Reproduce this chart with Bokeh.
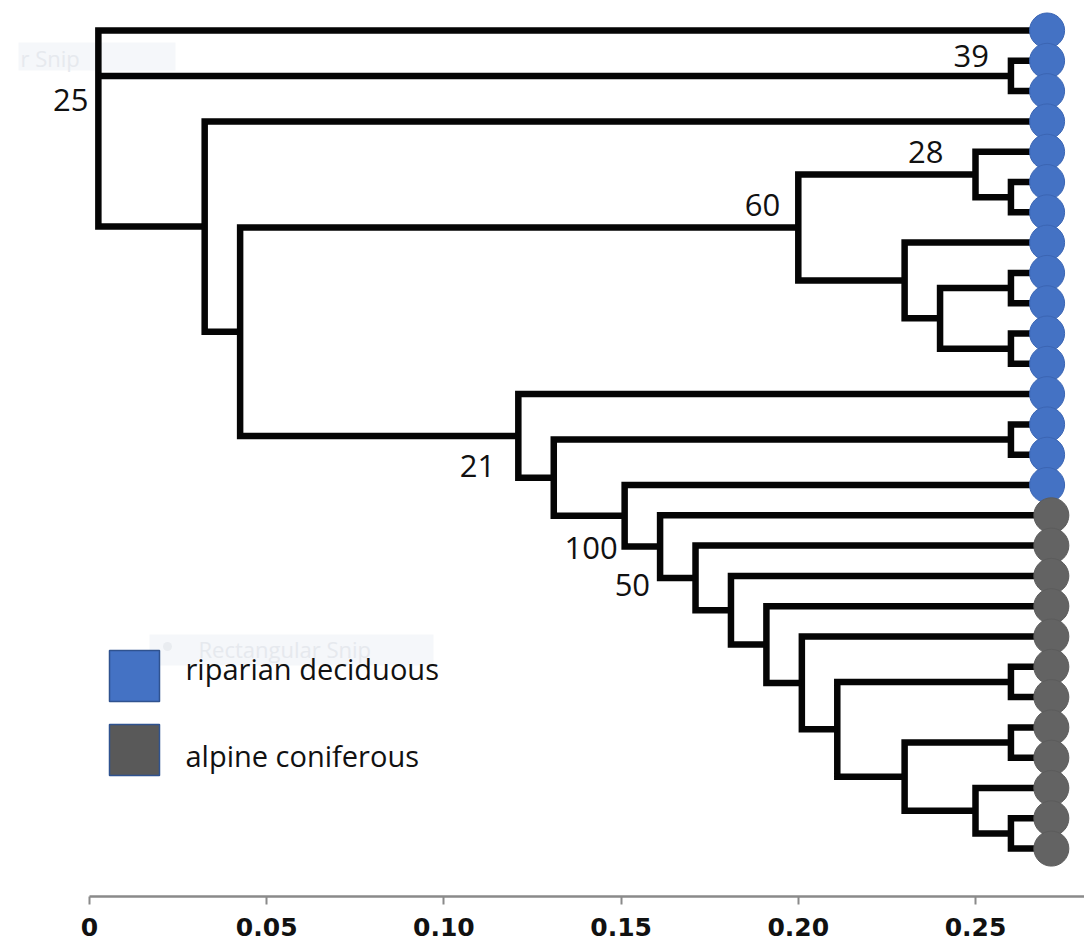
from bokeh.plotting import figure
from bokeh.models import Range1d, FixedTicker, ColumnDataSource
from bokeh.core.properties import value
from bokeh.embed import file_html
from bokeh.resources import INLINE

# ---------------- data ----------------
# habitat of each tip, top to bottom
HABITAT = ["riparian deciduous"] * 16 + ["alpine coniferous"] * 12
GROUPS = ["riparian deciduous", "alpine coniferous"]
GROUP_COLORS = {"riparian deciduous": "#4472C4", "alpine coniferous": "#636363"}
GROUP_LINES = {"riparian deciduous": "#3B65B3", "alpine coniferous": "#5C5C5C"}
LEGEND_FILL = {"riparian deciduous": "#4472C4", "alpine coniferous": "#595959"}

TIP_DEPTH = 0.268          # distance of the tips
# tree: (node distance, support value, children); ints are tip indices
TREE = (0.0025, "25", [
    0,
    (0.26, "39", [1, 2]),
    (0.0325, None, [
        3,
        (0.0425, None, [
            (0.20, "60", [
                (0.25, "28", [4, (0.26, None, [5, 6])]),
                (0.23, None, [7, (0.24, None, [(0.26, None, [8, 9]),
                                               (0.26, None, [10, 11])])]),
            ]),
            (0.121, "21", [
                12,
                (0.131, None, [
                    (0.26, None, [13, 14]),
                    (0.151, "100", [
                        15,
                        (0.161, "50", [
                            16,
                            (0.171, None, [17,
                                (0.181, None, [18,
                                    (0.191, None, [19,
                                        (0.201, None, [20,
                                            (0.211, None, [
                                                (0.26, None, [21, 22]),
                                                (0.23, None, [
                                                    (0.26, None, [23, 24]),
                                                    (0.25, None, [25, (0.26, None, [26, 27])]),
                                                ]),
                                            ]),
                                        ]),
                                    ]),
                                ]),
                            ]),
                        ]),
                    ]),
                ]),
            ]),
        ]),
    ]),
])

TICKS = [0.0, 0.05, 0.10, 0.15, 0.20, 0.25]
TICK_LABELS = ["0", "0.05", "0.10", "0.15", "0.20", "0.25"]

# ---------------- styling / layout ----------------
FRAME_W, FRAME_H = 1084, 896
X0_PX, PX_PER_UNIT = 89, 3544
Y0_PX, STEP_PX = 30, 30.3

# support label placement (screen px offsets of the text centre from the node)
LABEL_OFFSETS = {
    "25": (-10, -29), "39": (-22, -20), "28": (-32, -22), "60": (-18, -22),
    "21": (-23, 30), "100": (-7, 32), "50": (-10, 38),
}
TIP_SHIFT = {"riparian deciduous": 0.0022, "alpine coniferous": 0.0034}
# legend: square top edge (px) and text centre (px) per group
LEGEND_POS = {"riparian deciduous": (650, 668), "alpine coniferous": (724, 755)}

x_range = Range1d(-X0_PX / PX_PER_UNIT, (FRAME_W - X0_PX) / PX_PER_UNIT)
y_range = Range1d((FRAME_H - Y0_PX) / STEP_PX, -Y0_PX / STEP_PX)


def px2x(px):
    return (px - X0_PX) / PX_PER_UNIT


def px2y(py):
    return (py - Y0_PX) / STEP_PX


paths_x, paths_y = [], []
lab = dict(x=[], y=[], text=[], dx=[], dy=[])


def layout(node):
    if isinstance(node, int):
        return TIP_DEPTH, float(node)
    h, sup, kids = node
    pts = [layout(k) for k in kids]
    y = (pts[0][1] + pts[-1][1]) / 2
    paths_x.append([pts[0][0], h, h, pts[-1][0]])
    paths_y.append([pts[0][1], pts[0][1], pts[-1][1], pts[-1][1]])
    for cx, cy in pts[1:-1]:
        paths_x.append([h, cx])
        paths_y.append([cy, cy])
    if sup:
        dx, dy = LABEL_OFFSETS[sup]
        lab["x"].append(h)
        lab["y"].append(y)
        lab["text"].append(sup)
        lab["dx"].append(dx)
        lab["dy"].append(dy)
    return h, y


layout(TREE)

p = figure(frame_width=FRAME_W, frame_height=FRAME_H, x_range=x_range, y_range=y_range,
           output_backend="svg", toolbar_location=None, y_axis_location=None,
           min_border_left=0, min_border_right=0, min_border_top=0, min_border_bottom=48)
p.outline_line_color = None
p.xgrid.visible = False
p.ygrid.visible = False
p.background_fill_color = "white"

# faint screen-snip remnants
p.quad(left=[px2x(18), px2x(149)], right=[px2x(175), px2x(433)],
       top=[px2y(42), px2y(634)], bottom=[px2y(70), px2y(665)],
       fill_color="#f5f7fa", line_color=None)
p.scatter(x=[px2x(167)], y=[px2y(646)], size=9, marker="circle",
          fill_color="#e9ecf0", line_color=None)
p.text(x=[px2x(20), px2x(198)], y=[px2y(57), px2y(648)], text=["r Snip", "Rectangular Snip"],
       text_font=value("Open Sans"), text_font_size=value("22px"), text_color="#e6e9ee",
       text_baseline="middle")

# branches
p.multi_line(xs=paths_x, ys=paths_y, line_color="#050505", line_width=6.5,
             line_join="miter", line_cap="butt")

# tips
tips = ColumnDataSource(dict(
    x=[TIP_DEPTH + TIP_SHIFT[h] for h in HABITAT],
    y=list(range(len(HABITAT))),
    fill=[GROUP_COLORS[h] for h in HABITAT],
    line=[GROUP_LINES[h] for h in HABITAT],
))
p.scatter(x="x", y="y", source=tips, marker="circle", size=35,
          fill_color="fill", line_color="line", line_width=1)

# support values
p.text(x="x", y="y", text="text", x_offset="dx", y_offset="dy", source=ColumnDataSource(lab),
       text_align="right", text_baseline="middle", text_font=value("Open Sans"),
       text_font_size=value("31px"), text_color="#111111")

# legend (drawn by hand: squares and labels are not aligned in the original)
for g in GROUPS:
    top, text_mid = LEGEND_POS[g]
    p.quad(left=[px2x(109)], right=[px2x(159)], top=[px2y(top)], bottom=[px2y(top + 51)],
           fill_color=LEGEND_FILL[g], line_color="#2F528F", line_width=1.5)
    p.text(x=[px2x(185)], y=[px2y(text_mid)], text=[g], text_align="left",
           text_baseline="middle", text_font=value("Open Sans"),
           text_font_size=value("29px"), text_color="#111111")

# axis
ax = p.xaxis[0]
ax.ticker = FixedTicker(ticks=TICKS)
ax.major_label_overrides = dict(zip(TICKS, TICK_LABELS))
ax.bounds = (0, x_range.end)
ax.axis_line_color = "#8a8a8a"
ax.axis_line_width = 2.5
ax.major_tick_line_color = "#8a8a8a"
ax.major_tick_line_width = 2
ax.major_tick_out = 8
ax.major_tick_in = 0
ax.minor_tick_out = 0
ax.minor_tick_in = 0
ax.major_label_text_font = "DejaVu Sans"
ax.major_label_text_font_style = "bold"
ax.major_label_text_font_size = "25px"
ax.major_label_text_color = "#111111"
ax.major_label_standoff = 13

open("out.html", "w").write(file_html(p, INLINE))
